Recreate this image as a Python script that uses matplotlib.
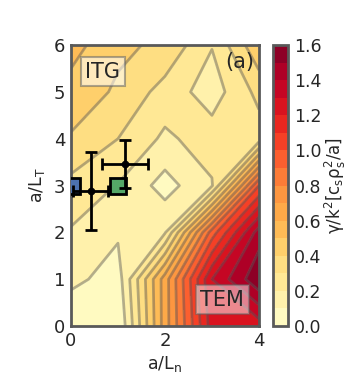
import numpy as np
import matplotlib
matplotlib.use("Agg")
import matplotlib.pyplot as plt

plt.rcParams["font.family"] = ["DejaVu Sans"]
plt.rcParams["mathtext.default"] = "regular"
plt.rcParams["text.color"] = "#262626"
plt.rcParams["axes.labelcolor"] = "#262626"
plt.rcParams["xtick.color"] = "#262626"
plt.rcParams["ytick.color"] = "#262626"

# ── Data ───────────────────────────────────────────────────────────────
a_Ln = [0, 1, 2, 3, 4]
a_LT = [0, 1, 2, 3, 4, 5, 6]

# growth rate gamma/k^2, one row per a/L_T value
gamma = [
    [0.00, 0.00, 0.65, 1.25, 1.25],
    [0.13, 0.05, 0.65, 1.30, 1.58],
    [0.19, 0.115, 0.19, 0.95, 1.45],
    [0.27, 0.195, 0.06, 0.19, 1.00],
    [0.39, 0.30, 0.18, 0.25, 0.25],
    [0.46, 0.385, 0.26, 0.15, 0.33],
    [0.54, 0.42, 0.38, 0.205, 0.48],
]
levels = np.round(np.arange(0, 1.61, 0.1), 2)
cbar_ticks = [0.0, 0.2, 0.4, 0.6, 0.8, 1.0, 1.2, 1.4, 1.6]

# experimental points with error bars
exp_x = [0.42, 1.15]
exp_y = [2.88, 3.46]
exp_xerr = [0.37, 0.48]
exp_yerr = [0.83, 0.52]

# marker squares
sq_x = [0.02, 1.01]
sq_y = [3.0, 2.99]
sq_colors = ["#4C72B0", "#55A868"]

# ── Figure ─────────────────────────────────────────────────────────────
fig = plt.figure(figsize=(3.48, 3.73), dpi=100)
ax = fig.add_axes([0.204, 0.126, 0.540, 0.753])
cax = fig.add_axes([0.784, 0.126, 0.044, 0.753])

X, Y = np.meshgrid(a_Ln, a_LT)
Z = np.array(gamma)
cf = ax.contourf(X, Y, Z, levels=levels, cmap="YlOrRd")
ax.contour(X, Y, Z, levels=levels[1:-1], colors="0.35", alpha=0.45, linewidths=2)

for x, y, c in zip(sq_x, sq_y, sq_colors):
    ax.plot(x, y, "s", ms=11.5, mfc=c, mec="black", mew=2, zorder=5)
ax.errorbar(exp_x, exp_y, xerr=exp_xerr, yerr=exp_yerr, fmt="o", color="black",
            ms=4.5, elinewidth=2, capsize=4, capthick=2, zorder=6)

ax.text(0.68, 5.43, "ITG", fontsize=15, ha="center", va="center",
        bbox=dict(boxstyle="square,pad=0.22", fc="white", ec="0.4", alpha=0.55, lw=1.5))
ax.text(3.22, 0.56, "TEM", fontsize=15, ha="center", va="center",
        bbox=dict(boxstyle="square,pad=0.22", fc="white", ec="0.4", alpha=0.5, lw=1.5))
ax.text(3.9, 5.64, "(a)", fontsize=15, ha="right", va="center")

ax.set_xlim(0, 4)
ax.set_ylim(0, 6)
ax.set_xticks([0, 2, 4])
ax.set_yticks(range(7))
ax.tick_params(length=0, labelsize=13, pad=4)
ax.set_xlabel("a/L$_n$", fontsize=12.5, labelpad=3)
ax.set_ylabel("a/L$_T$", fontsize=12.5, labelpad=5)
for sp in ax.spines.values():
    sp.set_color("0.35")
    sp.set_linewidth(2)

cb = fig.colorbar(cf, cax=cax, ticks=cbar_ticks)
cb.outline.set_edgecolor("0.35")
cb.outline.set_linewidth(2)
cb.ax.tick_params(length=0, labelsize=12.5, pad=4)
cb.ax.set_yticklabels([f"{t:.1f}" for t in cbar_ticks])
cb.set_label(r"$\gamma/k^2[c_s\rho_s^2/a]$", fontsize=12, labelpad=1)

fig.savefig("out.png", dpi=100)
